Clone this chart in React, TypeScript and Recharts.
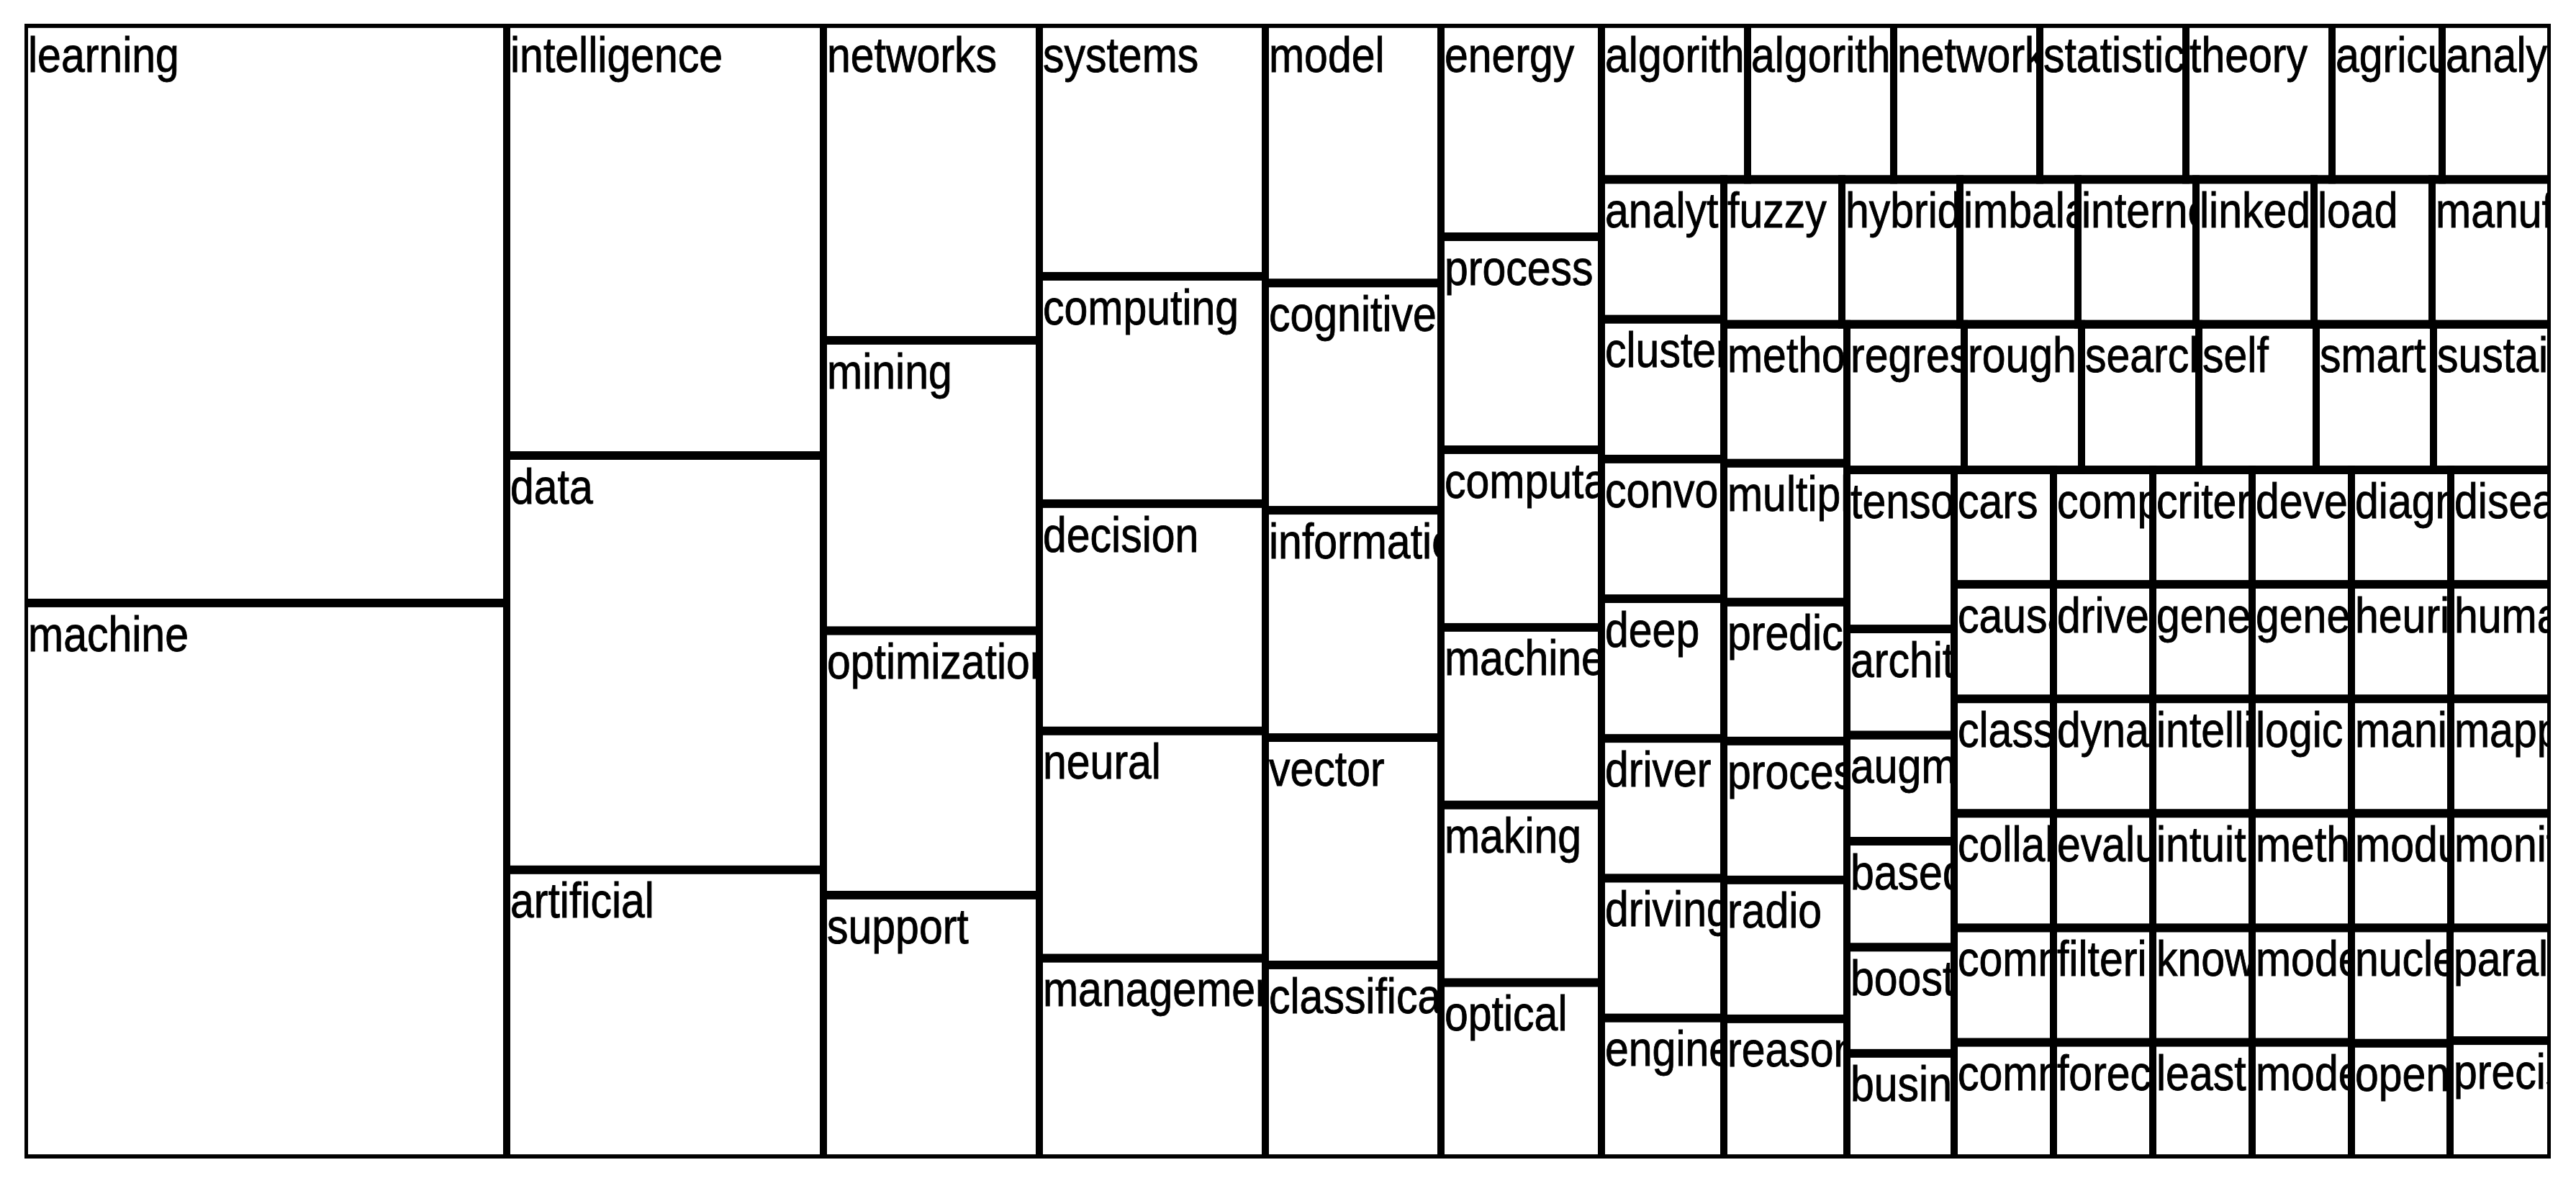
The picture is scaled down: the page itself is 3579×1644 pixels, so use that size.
import React from 'react';
import { Treemap } from 'recharts';

// Keyword frequencies (cell areas, in counts)
const majorTerms = [
  'learning', 'machine', 'intelligence', 'data', 'artificial',
  'networks', 'mining', 'optimization', 'support', 'systems',
  'computing', 'decision', 'neural', 'management', 'model',
  'cognitive', 'information', 'vector', 'classification', 'energy',
  'process', 'computational', 'machines', 'making', 'optical',
];
const majorCounts = [
  49, 47, 24, 23, 16,
  12, 11, 10, 10, 10,
  9, 9, 9, 8, 8,
  7, 7, 7, 6, 6,
  6, 5, 5, 5, 5,
];

const termsFour = ['algorithm', 'algorithms', 'network', 'statistical', 'theory'];
const countsFour = [4, 4, 4, 4, 4];

const termsThree = [
  'agriculture', 'analysis', 'analytics', 'clustering', 'convolutional', 'deep',
  'driver', 'driving', 'engineering', 'fuzzy', 'hybrid', 'imbalanced', 'internet',
  'linked', 'load', 'manufacturing', 'methods', 'multiple', 'prediction',
  'processing', 'radio', 'reasoning', 'regression', 'rough', 'search', 'self',
  'smart', 'sustainable', 'tensor',
];
const countsThree = [
  3, 3, 3, 3, 3, 3,
  3, 3, 3, 3, 3, 3, 3,
  3, 3, 3, 3, 3, 3,
  3, 3, 3, 3, 3, 3, 3,
  3, 3, 3,
];

const termsTwo = [
  'architecture', 'augmented', 'based', 'boosting', 'business', 'cars', 'causal',
  'classes', 'collaborative', 'commerce', 'communication', 'complex', 'criteria',
  'development', 'diagnosis', 'disease', 'driven', 'dynamic', 'evaluation',
  'filtering', 'forecasting', 'generation', 'genetic', 'heuristic', 'human',
  'intelligent', 'intuitionistic', 'knowledge', 'least', 'logic', 'manifold',
  'mapping', 'method', 'modeling', 'models', 'modular', 'monitoring', 'nuclear',
  'open', 'parallel', 'precision',
];
const countsTwo = [
  2, 2, 2, 2, 2, 2, 2,
  2, 2, 2, 2, 2, 2,
  2, 2, 2, 2, 2, 2,
  2, 2, 2, 2, 2, 2,
  2, 2, 2, 2, 2, 2,
  2, 2, 2, 2, 2, 2, 2,
  2, 2, 2,
];

const data = [
  ...majorTerms.map((name, i) => ({ name, size: majorCounts[i] })),
  ...termsFour.map((name, i) => ({ name, size: countsFour[i] })),
  ...termsThree.map((name, i) => ({ name, size: countsThree[i] })),
  ...termsTwo.map((name, i) => ({ name, size: countsTwo[i] })),
];

const LAYOUT_W = 3510;
const LAYOUT_H = 1348;
const SHOWN_H = 1577;
const STRETCH_Y = SHOWN_H / LAYOUT_H;

const renderCell = (props: any) => {
  const { x, y, width, height, name, depth, index } = props;
  if (!depth || depth < 1 || width == null) return <g />;
  const clipId = `cell-clip-${index}`;
  return (
    <g>
      <defs>
        <clipPath id={clipId}>
          <rect x={x} y={y} width={width} height={height} />
        </clipPath>
      </defs>
      <rect
        x={x}
        y={y}
        width={width}
        height={height}
        fill="none"
        stroke="#000"
        strokeWidth={10}
      />
      <text
        x={x + 5}
        y={y + 57}
        clipPath={`url(#${clipId})`}
        fill="#000"
        stroke="#000"
        strokeWidth={0.8}
        fontFamily="'Liberation Sans', Arial, Helvetica, sans-serif"
        fontSize={59}
      >
        {name}
      </text>
    </g>
  );
};

export default function App() {
  return (
    <div style={{ position: 'absolute', left: 34, top: 33, width: LAYOUT_W, height: SHOWN_H, background: '#fff' }}>
      <div
        style={{
          width: LAYOUT_W,
          height: LAYOUT_H,
          transform: `scaleY(${STRETCH_Y})`,
          transformOrigin: '0 0',
        }}
      >
        <Treemap
          width={LAYOUT_W}
          height={LAYOUT_H}
          data={data}
          dataKey="size"
          nameKey="name"
          aspectRatio={1}
          isAnimationActive={false}
          isUpdateAnimationActive={false}
          content={renderCell as any}
        />
      </div>
    </div>
  );
}
